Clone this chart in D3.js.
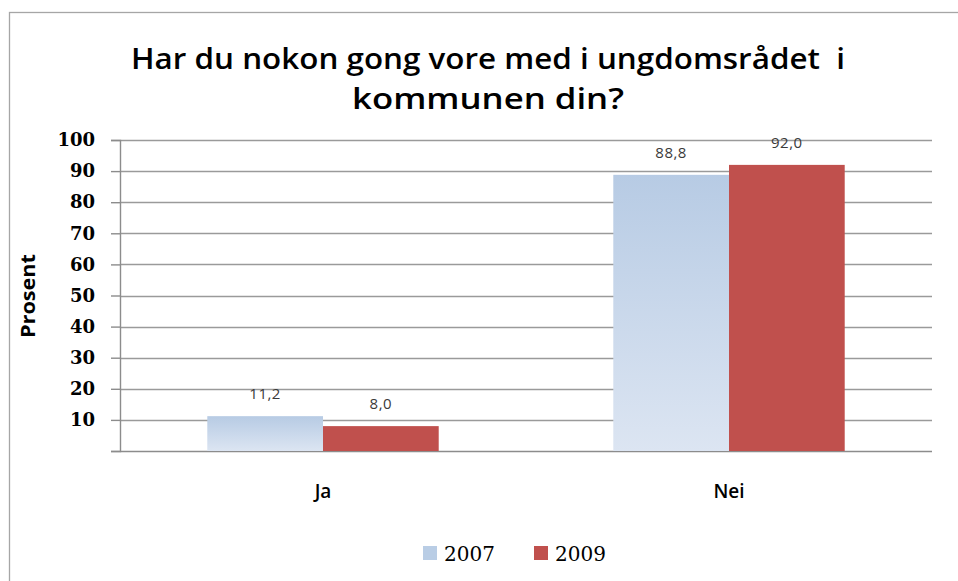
<!DOCTYPE html>
<html>
<head>
<meta charset="utf-8">
<script src="https://cdn.jsdelivr.net/npm/d3@7"></script>
<style>
  html, body { margin: 0; padding: 0; background: #fff; }
  svg { display: block; }
</style>
</head>
<body>
<div id="chart"></div>
<script>
// Data
const kategoriar = ["Ja", "Nei"];
const serieNamn = ["2007", "2009"];
const verdiar2007 = [11.2, 88.8];
const verdiar2009 = [8.0, 92.0];
const yTicks = [10, 20, 30, 40, 50, 60, 70, 80, 90, 100];
const tittelLinjer = ["Har du nokon gong vore med i ungdomsrådet  i", "kommunen din?"];
const yTittel = "Prosent";

const W = 958, H = 581;
const marg = { left: 120, right: 932, top: 140, bottom: 451 };

const svg = d3.select("#chart").append("svg")
  .attr("width", W).attr("height", H);

// outer frame (runs off right and bottom edges)
svg.append("rect")
  .attr("x", 9.5).attr("y", 12.5)
  .attr("width", W + 20).attr("height", H + 20)
  .attr("fill", "#fff").attr("stroke", "#a6a6a6").attr("stroke-width", 1.3);

const defs = svg.append("defs");
const grad = defs.append("linearGradient")
  .attr("id", "blaaGrad").attr("x1", 0).attr("y1", 0).attr("x2", 0).attr("y2", 1);
grad.append("stop").attr("offset", "0%").attr("stop-color", "#b7cbe4");
grad.append("stop").attr("offset", "100%").attr("stop-color", "#dce5f2");

// Title
const tittelG = svg.append("g");
const tittelBase = [69, 109];
const tittelBreidd = [714, 272];
tittelLinjer.forEach((t, i) => {
  tittelG.append("text")
    .attr("x", 488).attr("y", tittelBase[i])
    .attr("text-anchor", "middle")
    .attr("textLength", tittelBreidd[i])
    .attr("lengthAdjust", "spacingAndGlyphs")
    .style("white-space", "pre")
    .style("font-family", "'Open Sans', sans-serif")
    .style("font-weight", "600")
    .style("font-size", "29px")
    .style("fill", "#000")
    .text(t);
});

// Scales
const x0 = d3.scaleBand()
  .domain(kategoriar)
  .range([marg.left, marg.right])
  .paddingInner(0.43)
  .paddingOuter(0.215);

const x1 = d3.scaleBand()
  .domain(serieNamn)
  .range([0, x0.bandwidth()]);

const y = d3.scaleLinear()
  .domain([0, 100])
  .range([marg.bottom, marg.top]);

// Gridlines
svg.append("g")
  .selectAll("line")
  .data(yTicks)
  .join("line")
  .attr("x1", marg.left).attr("x2", marg.right)
  .attr("y1", d => Math.round(y(d)) + 0.5).attr("y2", d => Math.round(y(d)) + 0.5)
  .attr("stroke", "#9a9a9a").attr("stroke-width", 1.6);

// Y axis
const yAkse = d3.axisLeft(y)
  .tickValues([0].concat(yTicks))
  .tickSize(9)
  .tickPadding(16)
  .tickFormat(d => d === 0 ? "" : d);

const yG = svg.append("g")
  .attr("transform", `translate(${marg.left},0)`)
  .call(yAkse);
yG.select(".domain").attr("stroke", "#8c8c8c").attr("stroke-width", 1.4);
yG.selectAll(".tick line").attr("stroke", "#8c8c8c").attr("stroke-width", 1.4);
yG.selectAll(".tick text")
  .style("font-family", "'DejaVu Serif', serif")
  .style("font-weight", "bold")
  .style("font-size", "18px")
  .style("fill", "#000");

// X axis line
const xAkse = d3.axisBottom(x0).tickSize(0).tickPadding(34);
const xG = svg.append("g")
  .attr("transform", `translate(0,${marg.bottom})`)
  .call(xAkse);
xG.select(".domain").attr("stroke", "#8c8c8c").attr("stroke-width", 1.6)
  .attr("d", `M${marg.left},0.5H${marg.right}`);
xG.selectAll(".tick text")
  .style("font-family", "'Open Sans', sans-serif")
  .style("font-weight", "600")
  .style("font-size", "19px")
  .style("fill", "#000");

// Y title
svg.append("text")
  .attr("transform", "translate(35,296) rotate(-90)")
  .attr("text-anchor", "middle")
  .attr("textLength", 84)
  .attr("lengthAdjust", "spacingAndGlyphs")
  .style("font-family", "'Open Sans', sans-serif")
  .style("font-weight", "bold")
  .style("font-size", "19px")
  .text(yTittel);

// Bars
const seriar = [
  { namn: serieNamn[0], verdiar: verdiar2007, farge: "url(#blaaGrad)", legende: "#b9cde5" },
  { namn: serieNamn[1], verdiar: verdiar2009, farge: "#c0504d", legende: "#c0504d" }
];

const rader = kategoriar.map((k, i) => ({
  kategori: k,
  stolpar: seriar.map(s => ({ serie: s, verdi: s.verdiar[i] }))
}));

const grupper = svg.append("g")
  .selectAll("g")
  .data(rader)
  .join("g")
  .attr("transform", d => `translate(${x0(d.kategori)},0)`);

grupper.selectAll("rect")
  .data(d => d.stolpar)
  .join("rect")
  .attr("x", d => x1(d.serie.namn))
  .attr("y", d => y(d.verdi))
  .attr("width", x1.bandwidth())
  .attr("height", d => y(0) - y(d.verdi))
  .attr("fill", d => d.serie.farge);

const fmt = v => d3.format(".1f")(v).replace(".", ",");
grupper.selectAll("text.verdi")
  .data(d => d.stolpar)
  .join("text")
  .attr("class", "verdi")
  .attr("x", d => x1(d.serie.namn) + x1.bandwidth() / 2)
  .attr("y", d => y(d.verdi) - 17)
  .attr("text-anchor", "middle")
  .style("font-family", "'Open Sans', sans-serif")
  .style("font-size", "15px")
  .style("letter-spacing", "0.5px")
  .style("fill", "#3a3a3a")
  .text(d => fmt(d.verdi));

// Legend
const legende = svg.append("g").attr("transform", "translate(423,553)");
const legX = d3.scaleOrdinal().domain(serieNamn).range([0, 111]);
const legItem = legende.selectAll("g")
  .data(seriar)
  .join("g")
  .attr("transform", d => `translate(${legX(d.namn)},0)`);
legItem.append("rect")
  .attr("x", 0).attr("y", -7)
  .attr("width", 14).attr("height", 14)
  .attr("fill", d => d.legende);
legItem.append("text")
  .attr("x", 21).attr("y", 7.5)
  .style("font-family", "'DejaVu Serif', serif")
  .style("font-size", "20px")
  .style("fill", "#000")
  .text(d => d.namn);
</script>
</body>
</html>
